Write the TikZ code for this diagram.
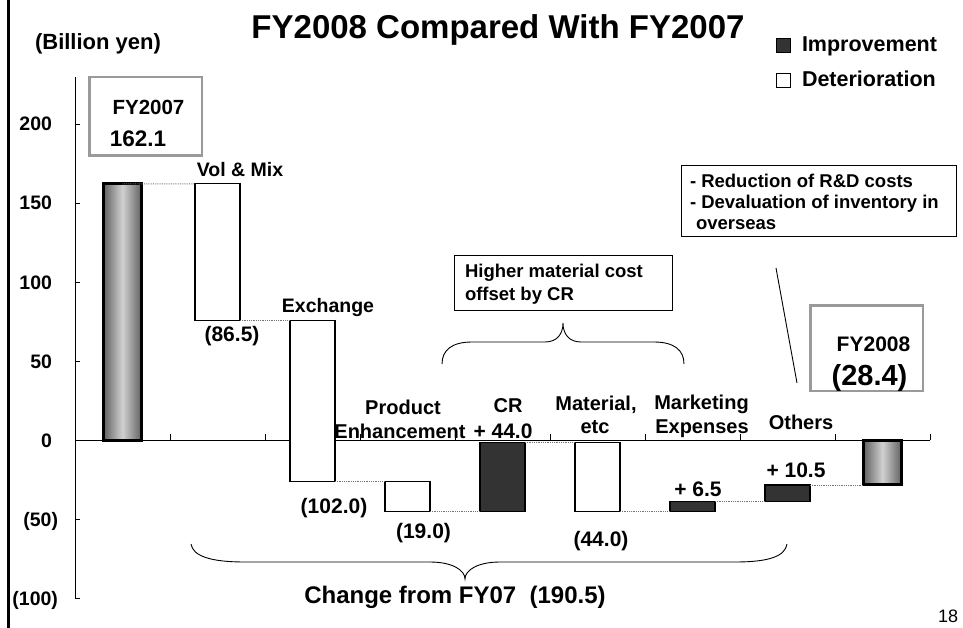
\documentclass[tikz,border=0pt]{standalone}
\usepackage{fontspec}
\setmainfont{Liberation Sans}
\definecolor{barDark}{HTML}{333333}
\definecolor{boxGray}{HTML}{9A9A9A}
\begin{document}
\begin{tikzpicture}[x=1pt,y=-1pt,
  txt/.style={inner sep=0pt, outer sep=0pt, anchor=base, font=\bfseries\fontsize{#1}{#1}\selectfont},
  txtl/.style={txt=#1, anchor=base west},
  ylab/.style={txt=19.5, anchor=base east},
  bar/.style={draw=black, line width=1.2pt, fill=white, inner sep=0pt, outer sep=0pt, minimum width=45pt},
  darkbar/.style={bar, fill=barDark},
  totbar/.style={bar, line width=3pt, minimum width=38pt, left color=black!62, right color=black!62, middle color=black!18},
  link/.style={draw=black!55, densely dotted, line width=0.8pt},
  graybox/.style={draw=boxGray, line width=2.5pt, inner sep=0pt, outer sep=0pt, fill=white},
  notebox/.style={draw=black, line width=1.1pt, inner sep=0pt, outer sep=0pt, fill=white},
  brace/.style={draw=black, line width=0.9pt},
  legsq/.style={draw=black, line width=0.7pt, minimum size=14pt, inner sep=0pt}
]
\useasboundingbox (0,0) rectangle (963,628);
% outer left rule
\draw[line width=3pt] (8.5,0) -- (8.5,628);
% title
\node[txt=33] (title) at (498,38.3) {FY2008 Compared With FY2007};
\node[txt=22] (unit) at (98,49.9) {(Billion yen)};
% legend
\node[legsq, fill=barDark] (lgI) at (783,45.5) {};
\node[legsq, fill=white] (lgD) at (783,80) {};
\node[txtl=21.5] (lgIt) at (802,52) {Improvement};
\node[txtl=21.5] (lgDt) at (802,87) {Deterioration};
% axes
\draw[line width=0.9pt] (75,77) -- (75,598);
\foreach \yy in {124,203,282,361,440,519,598} \draw[line width=0.9pt] (75,\yy) -- (80,\yy);
\draw[line width=0.9pt] (75,440) -- (930,440);
\foreach \xx in {170,265,360,455,550,645,740,835,930} \draw[line width=0.9pt] (\xx,440) -- (\xx,434);
% y labels
\node[ylab] (y200) at (52,131) {200};
\node[ylab] (y150) at (52,210) {150};
\node[ylab] (y100) at (52,289) {100};
\node[ylab] (y50) at (52,368) {50};
\node[ylab] (y0) at (52,447) {0};
\node[ylab] (ym50) at (58,526) {(50)};
\node[ylab] (ym100) at (58,605) {(100)};
% bars
\node[totbar, minimum height=256.1pt] (b1) at (122.5,311.95) {};
\node[bar, minimum height=136.7pt] (b2) at (217.5,252.25) {};
\node[bar, minimum height=161.1pt] (b3) at (312.5,401.15) {};
\node[bar, minimum height=30pt] (b4) at (407.5,496.7) {};
\node[darkbar, minimum height=69.5pt] (b5) at (502.5,476.95) {};
\node[bar, minimum height=69.5pt] (b6) at (597.5,476.95) {};
\node[darkbar, minimum height=10.2pt] (b7) at (692.5,506.6) {};
\node[darkbar, minimum height=16.6pt] (b8) at (787.5,493.2) {};
\node[totbar, minimum height=44.9pt] (b9) at (882.5,462.45) {};
% waterfall links
\draw[link] (b1.north) -- (b2.north west);
\draw[link] (b2.south east) -- (b3.north west);
\draw[link] (b3.south east) -- (b4.north west);
\draw[link] (b4.south east) -- (b5.south west);
\draw[link] (b5.north east) -- (b6.north west);
\draw[link] (b6.south east) -- (b7.south west);
\draw[link] (b7.north east) -- (b8.south west);
\draw[link] (b8.north east) -- (b9.south west);
% category labels
\node[txt=19.5] (lVol) at (240,176.7) {Vol \& Mix};
\node[txt=21] (vVol) at (232,341.5) {(86.5)};
\node[txt=19.5] (lExc) at (328,312.7) {Exchange};
\node[txt=21] (vExc) at (334,513) {(102.0)};
\node[txt=20] (lProd1) at (403,414) {Product};
\node[txt=20] (lProd2) at (400,438) {Enhancement};
\node[txt=21] (vProd) at (423.5,538) {(19.0)};
\node[txt=20] (lCR) at (508,412) {CR};
\node[txt=21] (vCR) at (503,438.5) {+ 44.0};
\node[txt=20] (lMat1) at (596,410) {Material,};
\node[txt=20] (lMat2) at (595,433) {etc};
\node[txt=21] (vMat) at (601,546) {(44.0)};
\node[txt=20] (lMkt1) at (701.5,409) {Marketing};
\node[txt=20] (lMkt2) at (702,433) {Expenses};
\node[txt=21] (vMkt) at (698,496.7) {+ 6.5};
\node[txt=20] (lOth) at (801,429) {Others};
\node[txt=21] (vOth) at (796,477.7) {+ 10.5};
% FY2007 box
\node[graybox, minimum width=112.5pt, minimum height=78.5pt] (box07) at (145.5,116.5) {};
\node[txt=20.5] (t07a) at (148.5,115) {FY2007};
\node[txt=22.5] (t07b) at (138,146.7) {162.1};
% FY2008 box
\node[graybox, minimum width=112.5pt, minimum height=85.5pt] (box08) at (866.5,348) {};
\node[txt=21] (t08a) at (873.5,351) {FY2008};
\node[txt=29] (t08b) at (869.5,385) {(28.4)};
% note boxes
\node[notebox, minimum width=275pt, minimum height=71pt] (noteRD) at (819,201) {};
\node[txtl=18.5] (rd1) at (690,187.3) {- Reduction of R\&D costs};
\node[txtl=18.5] (rd2) at (690,209) {- Devaluation of inventory in};
\node[txtl=18.5] (rd3) at (696,230) {overseas};
\node[notebox, minimum width=218pt, minimum height=55pt] (noteMat) at (563.5,283) {};
\node[txtl=18.5] (hm1) at (465,277.3) {Higher material cost};
\node[txtl=18.5] (hm2) at (465,300) {offset by CR};
% pointer line from R&D note to Others
\coordinate (rdA) at (776,268);
\coordinate (rdB) at (797,383);
\draw[line width=0.9pt] (rdA) -- (rdB);
% top brace
\draw[brace] (442,364) .. controls (442,350) and (452,342) .. (472,342) -- (545,342)
  .. controls (557,342) and (563,334) .. (563,323)
  .. controls (563,334) and (569,342) .. (581,342) -- (654,342)
  .. controls (674,342) and (684,350) .. (684,364);
% bottom brace
\draw[brace] (191,544) .. controls (193,556) and (210,562) .. (245,562) -- (430,562)
  .. controls (452,562) and (465,570) .. (465,579)
  .. controls (465,570) and (478,562) .. (500,562) -- (735,562)
  .. controls (770,562) and (785,556) .. (787,544);
\node[txt=24] (chg) at (455,603) {Change from FY07 \ (190.5)};
% page number
\node[inner sep=0pt, anchor=base, font=\fontsize{18}{18}\selectfont] (pg) at (948,622) {18};
\end{tikzpicture}
\end{document}
